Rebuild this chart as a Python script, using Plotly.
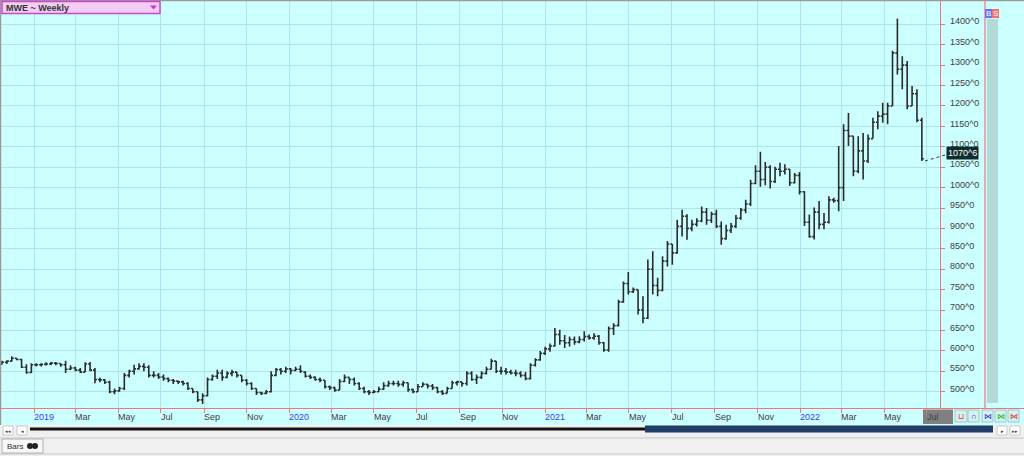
import plotly.graph_objects as go
import pandas as pd

# ---------------- data (weekly OHLC) ----------------
open_ = [
    568, 572, 575, 582, 579, 560, 547, 566, 566, 567,
    568, 570, 569, 566, 555, 558, 553, 548, 568, 553,
    530, 529, 523, 500, 502, 508, 540, 550, 556, 562,
    560, 540, 540, 536, 532, 528, 526, 524, 520, 508,
    500, 480, 490, 530, 538, 546, 535, 545, 548, 540,
    528, 520, 508, 498, 496, 500, 540, 554,
    550, 556, 552, 555, 548, 538, 535, 530, 528, 512,
    510, 504, 525, 535, 530, 520, 508, 500, 498, 500,
    506, 515, 520, 520, 518, 522, 505, 500, 512, 518,
    514, 510, 500, 496, 508, 522, 524, 520, 545, 530,
    535, 545, 555, 575, 550, 550, 548, 546, 545, 540,
    532, 565, 578, 594, 605, 612, 640, 625, 620, 628,
    622, 628, 635, 632, 636, 620, 602, 655, 662, 720,
    765, 745, 750, 700, 680, 800, 760, 748, 820, 862,
    840, 905, 930, 900, 910, 918, 940, 920, 935, 905,
    875, 895, 905, 925, 945, 960, 1010, 1040, 1020, 1050,
    1015, 1045, 1040, 1045, 1012, 1030, 990, 915, 880, 940,
    910, 915, 970, 968, 1000, 1140, 1126, 1040, 1090, 1065,
    1120, 1160, 1175, 1180, 1200, 1330, 1290, 1300, 1200, 1230,
    1165,
]
high = [
    576, 577, 587, 582, 581, 567, 570, 570, 570, 572,
    573, 573, 569, 576, 565, 561, 558, 572, 573, 558,
    534, 531, 527, 508, 512, 546, 554, 566, 570, 570,
    565, 550, 546, 542, 535, 531, 527, 527, 523, 508,
    500, 496, 535, 542, 554, 554, 550, 554, 548, 540,
    531, 523, 508, 500, 504, 550, 558, 558,
    561, 558, 561, 565, 550, 542, 538, 535, 528, 515,
    512, 531, 542, 535, 535, 523, 512, 504, 504, 512,
    523, 527, 527, 527, 527, 522, 508, 519, 523, 519,
    519, 512, 504, 512, 527, 527, 524, 550, 550, 542,
    550, 561, 581, 575, 561, 558, 554, 554, 550, 548,
    570, 582, 600, 610, 618, 656, 652, 639, 635, 635,
    636, 648, 640, 643, 639, 622, 660, 668, 725, 770,
    793, 755, 750, 734, 824, 844, 779, 832, 869, 862,
    921, 946, 935, 921, 925, 954, 950, 941, 946, 917,
    909, 913, 933, 950, 970, 1019, 1055, 1088, 1063, 1055,
    1051, 1061, 1057, 1045, 1036, 1038, 991, 934, 951, 967,
    938, 979, 975, 1102, 1155, 1183, 1126, 1126, 1134, 1130,
    1171, 1187, 1208, 1208, 1335, 1414, 1322, 1310, 1249, 1241,
    1171,
]
low = [
    566, 568, 574, 577, 558, 544, 546, 562, 562, 564,
    565, 565, 561, 546, 553, 550, 546, 548, 550, 521,
    523, 519, 496, 494, 500, 504, 535, 542, 554, 550,
    535, 535, 531, 527, 523, 519, 519, 515, 504, 496,
    475, 470, 488, 527, 531, 527, 533, 538, 535, 523,
    515, 504, 492, 492, 494, 498, 538, 542,
    546, 542, 550, 546, 535, 531, 527, 523, 508, 504,
    500, 504, 523, 519, 515, 504, 496, 492, 496, 500,
    504, 512, 515, 512, 512, 500, 496, 500, 512, 508,
    504, 496, 492, 496, 508, 515, 512, 515, 527, 519,
    531, 542, 555, 546, 542, 542, 542, 538, 535, 528,
    530, 562, 576, 590, 598, 611, 615, 607, 611, 615,
    619, 623, 627, 627, 615, 598, 598, 639, 660, 718,
    738, 742, 689, 668, 678, 738, 734, 746, 807, 811,
    838, 880, 872, 893, 905, 915, 909, 913, 901, 860,
    872, 889, 901, 921, 937, 955, 1008, 1002, 1006, 998,
    1011, 1028, 1032, 1004, 1010, 983, 906, 877, 873, 898,
    898, 912, 963, 942, 967, 1102, 1028, 1035, 1020, 1060,
    1120, 1143, 1159, 1155, 1200, 1277, 1241, 1192, 1200, 1160,
    1065,
]
close = [
    572, 575, 582, 579, 560, 547, 566, 566, 567, 568,
    570, 569, 566, 555, 558, 553, 548, 568, 553, 530,
    529, 523, 500, 502, 508, 540, 550, 556, 562, 560,
    540, 540, 536, 532, 528, 526, 524, 520, 508, 500,
    480, 490, 530, 538, 546, 535, 545, 548, 540, 528,
    520, 508, 498, 496, 500, 540, 554, 550,
    556, 552, 555, 550, 538, 535, 530, 528, 512, 510,
    504, 525, 535, 530, 520, 508, 500, 498, 500, 506,
    515, 520, 520, 518, 522, 505, 500, 512, 518, 514,
    510, 500, 496, 508, 522, 524, 520, 545, 530, 535,
    545, 555, 575, 550, 550, 548, 546, 545, 540, 532,
    565, 578, 594, 605, 612, 640, 625, 620, 628, 622,
    628, 635, 632, 636, 620, 602, 655, 662, 720, 765,
    745, 750, 700, 680, 800, 760, 748, 820, 862, 840,
    905, 930, 900, 910, 918, 940, 920, 935, 905, 875,
    895, 905, 925, 945, 960, 1010, 1040, 1020, 1050, 1015,
    1045, 1040, 1045, 1012, 1030, 990, 915, 880, 940, 910,
    915, 970, 968, 1000, 1140, 1126, 1040, 1090, 1065, 1120,
    1160, 1175, 1180, 1200, 1330, 1290, 1300, 1200, 1230, 1165,
    1070.75,
]
first_week = "2018-11-16"
dates = pd.date_range(first_week, periods=len(close), freq="7D")

price_ticks = list(range(500, 1401, 50))
price_labels = [f"{v}^0" for v in price_ticks]
month_ticks = [
    "2019-01-01", "2019-03-01", "2019-05-01", "2019-07-01", "2019-09-01", "2019-11-01",
    "2020-01-01", "2020-03-01", "2020-05-01", "2020-07-01", "2020-09-01", "2020-11-01",
    "2021-01-01", "2021-03-01", "2021-05-01", "2021-07-01", "2021-09-01", "2021-11-01",
    "2022-01-01", "2022-03-01", "2022-05-01", "2022-07-01",
]
month_labels = [
    "2019", "Mar", "May", "Jul", "Sep", "Nov",
    "2020", "Mar", "May", "Jul", "Sep", "Nov",
    "2021", "Mar", "May", "Jul", "Sep", "Nov",
    "2022", "Mar", "May", "Jul",
]
last_label = "1070^6"
title_text = "MWE ~ Weekly"
tab_text = "Bars"

# ---------------- layout geometry ----------------
W, H = 1024, 456
ML, MR, MT, MB = 1, 84, 1, 48
PW, PH = W - ML - MR, H - MT - MB
BG = "#CCFFFF"
GRID = "#B0E4E4"
RED = "#EE7777"
FONT = "Liberation Sans"


def PX(x):
    return (x - ML) / PW


def PY(y):
    return (H - MB - y) / PH


fig = go.Figure(
    go.Ohlc(
        x=dates, open=open_, high=high, low=low, close=close,
        increasing=dict(line=dict(color="#2b2b2b", width=1.6)),
        decreasing=dict(line=dict(color="#2b2b2b", width=1.6)),
        tickwidth=0.4, hoverinfo="skip",
    )
)

shapes = []
annotations = []


def rect(x0, y0, x1, y1, fill, line=None, lw=1, layer="above"):
    shapes.append(dict(type="rect", xref="paper", yref="paper",
                       x0=PX(x0), x1=PX(x1), y0=PY(y1), y1=PY(y0),
                       fillcolor=fill, layer=layer,
                       line=dict(color=line or fill, width=lw if line else 0)))


def hline(x0, x1, y, color, w=1, dash="solid"):
    shapes.append(dict(type="line", xref="paper", yref="paper",
                       x0=PX(x0), x1=PX(x1), y0=PY(y), y1=PY(y),
                       line=dict(color=color, width=w, dash=dash)))


def vline(x, y0, y1, color, w=1):
    shapes.append(dict(type="line", xref="paper", yref="paper",
                       x0=PX(x), x1=PX(x), y0=PY(y0), y1=PY(y1),
                       line=dict(color=color, width=w)))


def text(x, y, s, size=9, color="#333333", anchor="left", bold=False, bg=None):
    annotations.append(dict(xref="paper", yref="paper", x=PX(x), y=PY(y),
                            xanchor=anchor, yanchor="middle", showarrow=False,
                            text=f"<b>{s}</b>" if bold else s,
                            font=dict(family=FONT, size=size, color=color),
                            bgcolor=bg, borderpad=0))


# outer frame lines
hline(0, 1024, 0.5, "#9a9a9a", 1.5)
vline(0.5, 0, 425, "#9a9a9a", 1.5)

# right-hand side: second red line, strip, B/S boxes
vline(985, 0, 408, RED, 1.2)
rect(987, 19, 998, 403, "#B3DADA")
rect(985, 9, 992, 18, "#6F6FF5")
rect(992, 9, 999, 18, "#F07070")
text(988.5, 13.5, "B", 8, "#ffffff", "center")
text(995.5, 13.5, "S", 8, "#ffffff", "center")

# bottom red line
hline(0, 1024, 408.5, RED, 1.2)

# x labels (left aligned at tick)
for d, lab in zip(month_ticks, month_labels):
    is_year = lab.isdigit()
    annotations.append(dict(xref="x", yref="paper", x=d, y=PY(417),
                            xanchor="left", yanchor="middle", showarrow=False,
                            xshift=-1, text=lab, borderpad=0,
                            font=dict(family=FONT, size=9,
                                      color="#3b3bf5" if is_year else "#404040")))
# highlighted current month box (drawn under text)
rect(923, 409.5, 953, 424, "#808080", layer="below")

# buttons on the axis row
btn_x = [(955, 967, "⊔", "#e03030"), (968, 979, "∩", "#3030e0"),
         (982, 993, "⋈", "#3030e0"), (995, 1006, "⋈", "#20b020"),
         (1008, 1019, "⋈", "#e03030")]
for x0, x1, g, c in btn_x:
    rect(x0, 410, x1, 422, "#D4F2F2", "#9cc8c8", 1)
    text((x0 + x1) / 2, 416, g, 8, c, "center")

# bottom control rows
rect(0, 425, 1024, 456, "#F0F0F0")
rect(3, 426, 13, 435, "#ffffff", "#c8c8c8", 1)
rect(17, 426, 27, 435, "#ffffff", "#c8c8c8", 1)
text(8, 430.5, "◂◂", 5, "#333333", "center")
text(22, 430.5, "◂", 5, "#333333", "center")
rect(997, 426, 1007, 435, "#ffffff", "#c8c8c8", 1)
rect(1010, 426, 1020, 435, "#ffffff", "#c8c8c8", 1)
text(1002, 430.5, "▸", 5, "#333333", "center")
text(1015, 430.5, "▸▸", 5, "#333333", "center")
hline(30, 646, 429, "#111111", 3)
rect(645, 425.5, 993, 432.5, "#1F3D66")
hline(0, 1024, 438, "#c8c8c8", 1)
hline(0, 1024, 454, "#c8c8c8", 1)
rect(2, 439, 43, 453, "#F7F7F7", "#b0b0b0", 1)
text(6, 446, tab_text, 8, "#333333")
shapes.append(dict(type="circle", xref="paper", yref="paper",
                   x0=PX(27), x1=PX(33), y0=PY(449), y1=PY(443),
                   fillcolor="#222222", line=dict(width=0)))
shapes.append(dict(type="circle", xref="paper", yref="paper",
                   x0=PX(32), x1=PX(38), y0=PY(449), y1=PY(443),
                   fillcolor="#222222", line=dict(width=0)))

# title box top-left
rect(2, 1.5, 160, 13.5, "#F4CCF4", "#C848C8", 1.5)
text(5, 7.5, title_text, 9, "#333333", bold=True)
shapes.append(dict(type="path", xref="paper", yref="paper",
                   path=f"M {PX(150)} {PY(5.5)} L {PX(157)} {PY(5.5)} L {PX(153.5)} {PY(9.5)} Z",
                   fillcolor="#CC33CC", line=dict(width=0)))

# last price marker
shapes.append(dict(type="line", xref="paper", yref="paper",
                   x0=PX(925), y0=PY(161), x1=PX(945), y1=PY(155),
                   line=dict(color="#333333", width=1, dash="dot")))
annotations.append(dict(xref="paper", yref="y", x=PX(945.5), y=close[-1],
                        yshift=6, xanchor="left", yanchor="middle",
                        showarrow=False, text=last_label, borderpad=1,
                        bgcolor="#0E2C2C",
                        font=dict(family=FONT, size=9, color="#ffffff")))

fig.update_layout(
    width=W, height=H,
    margin=dict(l=ML, r=MR, t=MT, b=MB, pad=0),
    paper_bgcolor=BG, plot_bgcolor=BG,
    showlegend=False,
    shapes=shapes, annotations=annotations,
    font=dict(family=FONT, size=9, color="#404040"),
)
fig.update_xaxes(
    type="date", range=["2018-11-14 13:40", "2022-07-19 23:00"],
    rangeslider=dict(visible=False),
    tickvals=month_ticks, showticklabels=False,
    ticks="outside", ticklen=4, tickcolor=RED, tickwidth=1,
    showgrid=True, gridcolor=GRID, gridwidth=1.2,
    showline=True, linecolor=RED, linewidth=1.2, zeroline=False,
)
fig.update_yaxes(
    side="right", range=[460.1, 1457.1],
    tickvals=price_ticks, ticktext=price_labels,
    ticks="outside", ticklen=4, tickcolor=RED, tickwidth=1.2,
    tickfont=dict(family=FONT, size=9, color="#404040"),
    ticklabelshift=-3, ticklabelstandoff=3,
    showgrid=True, gridcolor=GRID, gridwidth=1.2,
    showline=True, linecolor=RED, linewidth=1.2, zeroline=False,
)

fig.write_html(
    "out.html",
    config={"displayModeBar": False},
    post_script="document.body.style.margin='0';document.body.style.overflow='hidden';",
)
